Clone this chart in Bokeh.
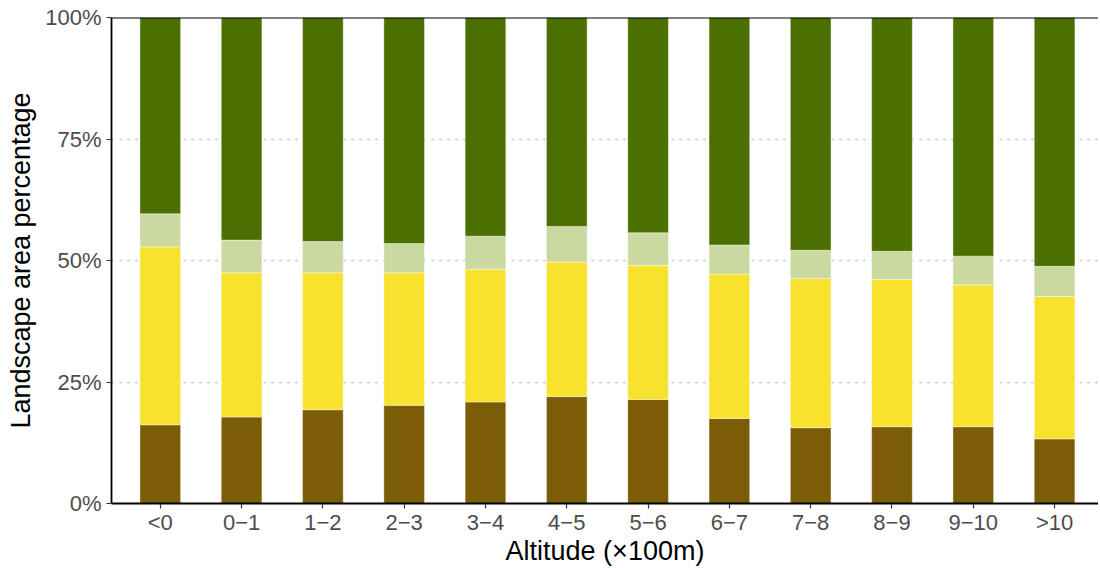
from bokeh.plotting import figure
from bokeh.models import ColumnDataSource, Span, NumeralTickFormatter, FixedTicker, Range1d
from bokeh.embed import file_html
from bokeh.resources import INLINE

categories = ["<0", "0−1", "1−2", "2−3", "3−4", "4−5", "5−6", "6−7", "7−8", "8−9", "9−10", ">10"]
brown = [16.2, 17.8, 19.3, 20.2, 20.9, 22.0, 21.4, 17.5, 15.6, 15.8, 15.8, 13.3]
yellow = [36.6, 29.7, 28.2, 27.3, 27.3, 27.7, 27.6, 29.7, 30.7, 30.3, 29.2, 29.3]
light_green = [6.8, 6.7, 6.4, 6.0, 6.8, 7.3, 6.7, 6.0, 5.8, 5.8, 5.9, 6.2]
dark_green = [40.4, 45.8, 46.1, 46.5, 45.0, 43.0, 44.3, 46.8, 47.9, 48.1, 49.1, 51.2]

series = ["brown", "yellow", "light_green", "dark_green"]
colors = ["#7B5C07", "#F9E22E", "#C9D9A0", "#4B7000"]

xpos = list(range(1, len(categories) + 1))
src = ColumnDataSource(dict(x=xpos,
                            brown=[v / 100 for v in brown],
                            yellow=[v / 100 for v in yellow],
                            light_green=[v / 100 for v in light_green],
                            dark_green=[v / 100 for v in dark_green]))

W, H = 1098, 568
left_b, top_b, bottom_b = 111, 17, 65
unit = 81.3
frame_w = W - left_b

p = figure(width=W, height=H, output_backend="svg", toolbar_location=None,
           x_range=Range1d(0.4, 0.4 + frame_w / unit), y_range=Range1d(0, 1),
           min_border_left=left_b, min_border_top=top_b, min_border_right=0,
           min_border_bottom=bottom_b)

p.vbar_stack(series, x="x", width=0.5, source=src, color=colors,
             line_color="white", line_alpha=0.5, line_width=0.8)

p.outline_line_color = None
p.background_fill_color = "white"
p.border_fill_color = "white"

p.xgrid.grid_line_color = None
p.ygrid.ticker = FixedTicker(ticks=[0.25, 0.5, 0.75])
p.ygrid.grid_line_color = "#BEBEBE"
p.ygrid.grid_line_dash = "2 6"
p.ygrid.grid_line_width = 1.4
p.ygrid.level = "underlay"

p.xaxis.ticker = FixedTicker(ticks=xpos)
p.xaxis.major_label_overrides = {x: c for x, c in zip(xpos, categories)}
p.yaxis.ticker = FixedTicker(ticks=[0, 0.25, 0.5, 0.75, 1.0])
p.yaxis.formatter = NumeralTickFormatter(format="0%")

for ax in (p.xaxis, p.yaxis):
    ax.axis_line_color = "black"
    ax.axis_line_width = 1.8
    ax.major_tick_line_color = "#333333"
    ax.major_tick_line_width = 1.2
    ax.major_tick_in = 0
    ax.major_tick_out = 5
    ax.minor_tick_line_color = None
    ax.major_label_text_font = "Liberation Sans"
    ax.major_label_text_font_size = "22px"
    ax.major_label_text_color = "#4D4D4D"
    ax.axis_label_text_font = "Liberation Sans"
    ax.axis_label_text_font_style = "normal"
    ax.axis_label_text_color = "black"
    ax.axis_label_text_font_size = "27px"

p.xaxis.axis_label = "Altitude (×100m)"
p.xaxis.axis_label_standoff = -2
p.xaxis.major_label_standoff = 1
p.yaxis.axis_label = "Landscape area percentage"
p.yaxis.axis_label_standoff = 6
p.yaxis.major_label_standoff = 5

top = Span(location=1.0, dimension="width", line_color="black", line_width=2)
p.add_layout(top)

open("out.html", "w").write(file_html(p, INLINE))
